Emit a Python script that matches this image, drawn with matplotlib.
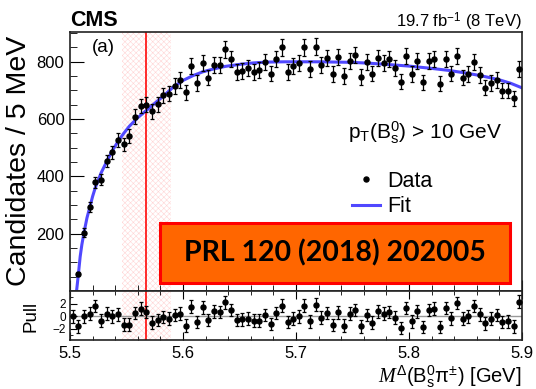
import numpy as np
import matplotlib
matplotlib.use("Agg")
import matplotlib.pyplot as plt
from matplotlib.patches import Rectangle
from matplotlib.lines import Line2D

plt.rcParams['font.family'] = ['Liberation Sans', 'DejaVu Sans']
plt.rcParams['mathtext.fontset'] = 'custom'
plt.rcParams['mathtext.rm'] = 'Liberation Sans'
plt.rcParams['mathtext.it'] = 'Liberation Serif:italic'
plt.rcParams['mathtext.bf'] = 'Liberation Sans:bold'
plt.rcParams['hatch.linewidth'] = 0.4

# ------------------------------
# Daten
# ------------------------------
bin_lo = 5.5
bin_width = 0.005

# Kandidaten pro Bin, Bins 1..79 (Bin 0 ist leer)
counts = [59, 204, 292, 379, 388, 455, 484, 527, 513, 541,
          609, 646, 650, 627, 652, 684, 689, 716, 736, 693,
          784, 726, 795, 745, 790, 790, 844, 809, 763, 769,
          778, 763, 771, 798, 759, 809, 850, 763, 786, 796,
          850, 774, 853, 790, 813, 757, 817, 751, 803, 823,
          748, 798, 759, 813, 795, 809, 780, 731, 820, 757,
          803, 728, 803, 809, 724, 809, 759, 821, 745, 757,
          798, 754, 710, 726, 736, 699, 699, 672, 774]

# Pull, Bins 0..79
pulls = [0.0, -1.6, 0.0, 0.4, 1.6, -0.7, 0.4, 0.0, 0.3, -1.3,
         -1.3, 0.5, 1.2, 0.7, -1.0, -0.6, -0.1, -0.4, 0.2, 0.4,
         -1.5, 1.5, -0.9, 1.4, -0.6, 0.8, 0.7, 2.2, 1.0, -0.6,
         -0.5, -0.4, -0.7, -0.7, 0.2, -1.2, 0.5, 1.7, -0.9, -0.4,
         0.0, 1.7, -0.8, 1.85, -0.2, 0.5, -1.4, 0.6, -1.5, 0.4,
         1.0, -1.6, 0.2, -1.0, 0.8, 0.4, 0.7, -0.2, -1.85, 1.3,
         -0.8, 0.8, -1.7, 1.0, 1.2, -1.7, 1.3, -0.3, 2.1, -0.4,
         0.0, 1.6, 0.3, -1.1, -0.4, 0.2, -0.9, -0.8, -1.6, 2.3]

# Fitkurve
fit_mass = [5.5058, 5.5065, 5.5075, 5.509, 5.5105, 5.5125, 5.515, 5.5175,
            5.52, 5.5225, 5.5275, 5.5325, 5.5375, 5.5425, 5.5475, 5.5525,
            5.56, 5.5675, 5.575, 5.5825, 5.5915, 5.6, 5.609, 5.6175, 5.627,
            5.6375, 5.65, 5.662, 5.674, 5.69, 5.703, 5.72, 5.735, 5.75,
            5.765, 5.78, 5.8, 5.82, 5.835, 5.85, 5.86, 5.87, 5.88, 5.89, 5.9]
fit_count = [0, 25, 62, 120, 162, 206, 255, 292, 330, 362, 412, 452, 490,
             522, 550, 575, 605, 630, 655, 680, 712, 735, 752, 765, 775,
             784, 791, 796, 799, 800, 800, 800, 799, 798, 795, 791, 785,
             777, 770, 761, 754, 746, 737, 725, 709]

peak_mass = 5.5675
band_lo, band_hi = 5.5457, 5.589

mass = bin_lo + bin_width * (np.arange(1, len(counts) + 1) + 0.5)
mass_pull = bin_lo + bin_width * (np.arange(len(pulls)) + 0.5)
counts = np.array(counts)

# ------------------------------
# Plot
# ------------------------------
W, H = 536, 389
fig = plt.figure(figsize=(W / 100, H / 100), dpi=100)
ax = fig.add_axes([70 / W, 1 - 291 / H, 452 / W, 259 / H])
axp = fig.add_axes([70 / W, 1 - 340 / H, 452 / W, 49 / H])

for a in (ax, axp):
    a.axvspan(band_lo, band_hi, facecolor='none', edgecolor='#ffd6d6',
              hatch='xxxxxx', lw=0, zorder=0)
    a.axvline(peak_mass, color='#ff1a1a', lw=1.3, zorder=1)
    a.set_xlim(5.5, 5.9)
    for s in a.spines.values():
        s.set_color('#222222')
        s.set_linewidth(1.2)

ax.plot(fit_mass, fit_count, color='#5048ff', lw=2.2, zorder=2)
ax.errorbar(mass, counts, yerr=np.sqrt(counts), fmt='o', color='black',
            ms=3.6, elinewidth=0.9, capsize=1.6, capthick=0.9, zorder=3)
ax.set_ylim(0, 904)
ax.set_yticks([200, 400, 600, 800])
ax.set_yticks(np.arange(0, 904, 50), minor=True)
ax.set_xticks(np.arange(5.5, 5.91, 0.1))
ax.set_xticks(np.arange(5.5, 5.91, 0.02), minor=True)
ax.tick_params(axis='x', which='both', direction='in', labelbottom=False)
ax.tick_params(axis='x', which='major', length=8)
ax.tick_params(axis='x', which='minor', length=4)
ax.tick_params(axis='y', which='major', direction='in', length=10,
               labelsize=12, pad=4)
ax.tick_params(axis='y', which='minor', direction='in', length=5)

axp.axhline(0, color='#999999', lw=1.0, zorder=1)
axp.errorbar(mass_pull, pulls, yerr=1, fmt='o', color='black', ms=3.6,
             elinewidth=0.9, capsize=1.6, capthick=0.9, zorder=3)
axp.set_ylim(-3.75, 4.0)
axp.set_yticks([-2, 0, 2])
axp.set_yticklabels(['\u22122', '0', '2'])
axp.set_yticks([-3, -1, 1, 3], minor=True)
axp.set_xticks(np.arange(5.5, 5.91, 0.1))
axp.set_xticks(np.arange(5.5, 5.91, 0.02), minor=True)
axp.set_xticklabels(['5.5', '5.6', '5.7', '5.8', '5.9'])
axp.tick_params(axis='x', which='both', direction='in', top=True,
                labelsize=12, pad=4)
axp.tick_params(axis='x', which='major', length=6)
axp.tick_params(axis='x', which='minor', length=3)
axp.tick_params(axis='y', which='major', direction='in', length=5,
                labelsize=8.5, pad=3)
axp.tick_params(axis='y', which='minor', direction='in', length=2.5)

# Beschriftungen
fig.text(19 / W, 1 - 36 / H, 'Candidates / 5 MeV', rotation=90,
         ha='center', va='top', fontsize=20.5)
fig.text(31 / W, 1 - 316 / H, 'Pull', rotation=90, ha='center',
         va='center', fontsize=13.5)
fig.text(522 / W, 1 - 383 / H,
         r'$M^{\Delta}(\mathrm{B}^{0}_{\mathrm{s}}\mathrm{\pi}^{\pm})$ [GeV]',
         ha='right', va='baseline', fontsize=14.5)
fig.text(70 / W, 1 - 26 / H, 'CMS', fontweight='bold', fontsize=15.5,
         ha='left', va='baseline')
fig.text(522 / W, 1 - 27 / H, r'19.7 fb$^{-1}$ (8 TeV)', fontsize=12,
         ha='right', va='baseline')
fig.text(92 / W, 1 - 52 / H, '(a)', fontsize=13.5, ha='left', va='baseline')
fig.text(502 / W, 1 - 139 / H, r'p$_{\mathrm{T}}$(B$^{0}_{\mathrm{s}}$) > 10 GeV',
         fontsize=15, ha='right', va='baseline')

handles = [Line2D([], [], marker='o', color='black', ms=3.6, lw=0),
           Line2D([], [], color='#5048ff', lw=2.2)]
ax.legend(handles, ['Data', 'Fit'], loc='upper left',
          bbox_to_anchor=(0.624, 0.465), frameon=False, fontsize=15.5,
          handlelength=1.3, handletextpad=0.32, labelspacing=0.22,
          borderpad=0, borderaxespad=0)

# Publikationshinweis
fig.patches.append(Rectangle((160 / W, 1 - 283.3 / H), 350 / W, 60.6 / H,
                             transform=fig.transFigure, facecolor='#ff6600',
                             edgecolor='#ff0000', lw=2.2, zorder=5))
fig.text(335 / W, 1 - 253 / H, 'PRL 120 (2018) 202005', fontsize=20.5,
         fontfamily='Lato', fontweight='bold', ha='center', va='center',
         color='black', zorder=6)

fig.savefig('out.png', dpi=100)
